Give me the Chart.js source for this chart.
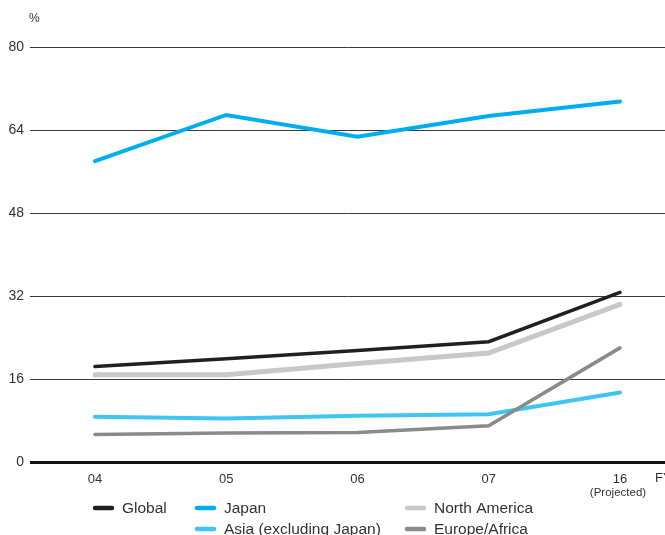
<!DOCTYPE html>
<html>
<head>
<meta charset="utf-8">
<script src="https://cdn.jsdelivr.net/npm/chart.js@4"></script>
<style>
  html, body { margin: 0; padding: 0; background: #fff; }
  #wrap { width: 665px; height: 535px; position: relative; }
</style>
</head>
<body>
<div id="wrap"><canvas id="c" width="665" height="535"></canvas></div>
<script>
// Fiscal years on the horizontal axis
const fiscalYears = ['04', '05', '06', '07', '16'];
const yearNotes = ['', '', '', '', '(Projected)'];
const axisUnit = 'FY';
const valueUnit = '%';

// Share by region, percent
const globalShare   = [18.4, 19.9, 21.5, 23.2, 32.7];
const japanShare    = [58.0, 66.9, 62.7, 66.7, 69.5];
const northAmerica  = [16.8, 16.8, 19.0, 21.0, 30.4];
const asiaExJapan   = [8.7, 8.4, 8.9, 9.2, 13.4];
const europeAfrica  = [5.3, 5.6, 5.7, 7.0, 22.0];

const yTicks = [0, 16, 32, 48, 64, 80];

const FONT = '"Liberation Sans", Arial, sans-serif';
const TEXT = '#333333';

function pts(values) {
  return values.map((v, i) => ({ x: i, y: v }));
}

const series = [
  { label: 'Global', data: globalShare, color: '#231f20', width: 3.5, order: 0 },
  { label: 'Japan', data: japanShare, color: '#00aeef', width: 4, order: 1 },
  { label: 'North America', data: northAmerica, color: '#c8c8c8', width: 5, order: 3 },
  { label: 'Asia (excluding Japan)', data: asiaExJapan, color: '#3ec5f3', width: 4, order: 4 },
  { label: 'Europe/Africa', data: europeAfrica, color: '#8a8a8a', width: 3.5, order: 2 }
];

// Legend slots: [swatch x, row y]
const legendSlots = [[93, 508], [195, 508], [405, 508], [195, 529], [405, 529]];

const extras = {
  id: 'extras',
  afterDraw(chart) {
    const ctx = chart.ctx;
    const xs = chart.scales.x;
    ctx.save();
    ctx.fillStyle = TEXT;
    ctx.textBaseline = 'middle';

    // unit above the value axis
    ctx.font = '12px ' + FONT;
    ctx.textAlign = 'left';
    ctx.fillText(valueUnit, 29, 19);

    // notes under year labels
    ctx.font = '11.5px ' + FONT;
    ctx.textAlign = 'center';
    yearNotes.forEach((n, i) => {
      if (n) ctx.fillText(n, xs.getPixelForValue(i) - 2, 493);
    });

    // axis unit at the right end
    ctx.font = '13px ' + FONT;
    ctx.textAlign = 'left';
    ctx.fillText(axisUnit, 655, 478);

    // legend
    ctx.font = '15.5px ' + FONT;
    series.forEach((s, i) => {
      const [lx, ly] = legendSlots[i];
      ctx.strokeStyle = s.color;
      ctx.lineWidth = 4.5;
      ctx.lineCap = 'round';
      ctx.beginPath();
      ctx.moveTo(lx + 2, ly);
      ctx.lineTo(lx + 19, ly);
      ctx.stroke();
      ctx.fillStyle = TEXT;
      ctx.textAlign = 'left';
      ctx.fillText(s.label, lx + 29, ly + 1);
    });
    ctx.restore();
  }
};

new Chart(document.getElementById('c'), {
  type: 'line',
  data: {
    datasets: series.map(s => ({
      label: s.label,
      data: pts(s.data),
      borderColor: s.color,
      backgroundColor: s.color,
      borderWidth: s.width,
      pointRadius: 0,
      tension: 0,
      order: s.order,
      borderCapStyle: 'round',
      borderJoinStyle: 'miter'
    }))
  },
  options: {
    responsive: false,
    animation: false,
    events: [],
    layout: { padding: { top: 47, right: 0, left: 0, bottom: 0 } },
    plugins: { legend: { display: false }, tooltip: { enabled: false } },
    scales: {
      x: {
        type: 'linear',
        min: -0.495,
        max: 4.343,
        afterBuildTicks(scale) {
          scale.ticks = fiscalYears.map((_, i) => ({ value: i }));
        },
        afterFit(scale) { scale.height = 73; },
        grid: { display: false },
        border: { display: false },
        ticks: {
          autoSkip: false,
          maxRotation: 0,
          padding: 2,
          color: TEXT,
          font: { family: FONT, size: 13 },
          callback: v => fiscalYears[v] ?? ''
        }
      },
      y: {
        min: 0,
        max: 80,
        afterBuildTicks(scale) {
          scale.ticks = yTicks.map(v => ({ value: v }));
        },
        afterFit(scale) { scale.width = 30; },
        border: { display: false },
        grid: {
          color: ctx => ctx.tick && ctx.tick.value === 0 ? '#111111' : '#3a3a3a',
          lineWidth: ctx => ctx.tick && ctx.tick.value === 0 ? 3 : 1,
          drawTicks: false
        },
        ticks: {
          padding: 6,
          color: TEXT,
          font: { family: FONT, size: 14 }
        }
      }
    }
  },
  plugins: [extras]
});
</script>
</body>
</html>
